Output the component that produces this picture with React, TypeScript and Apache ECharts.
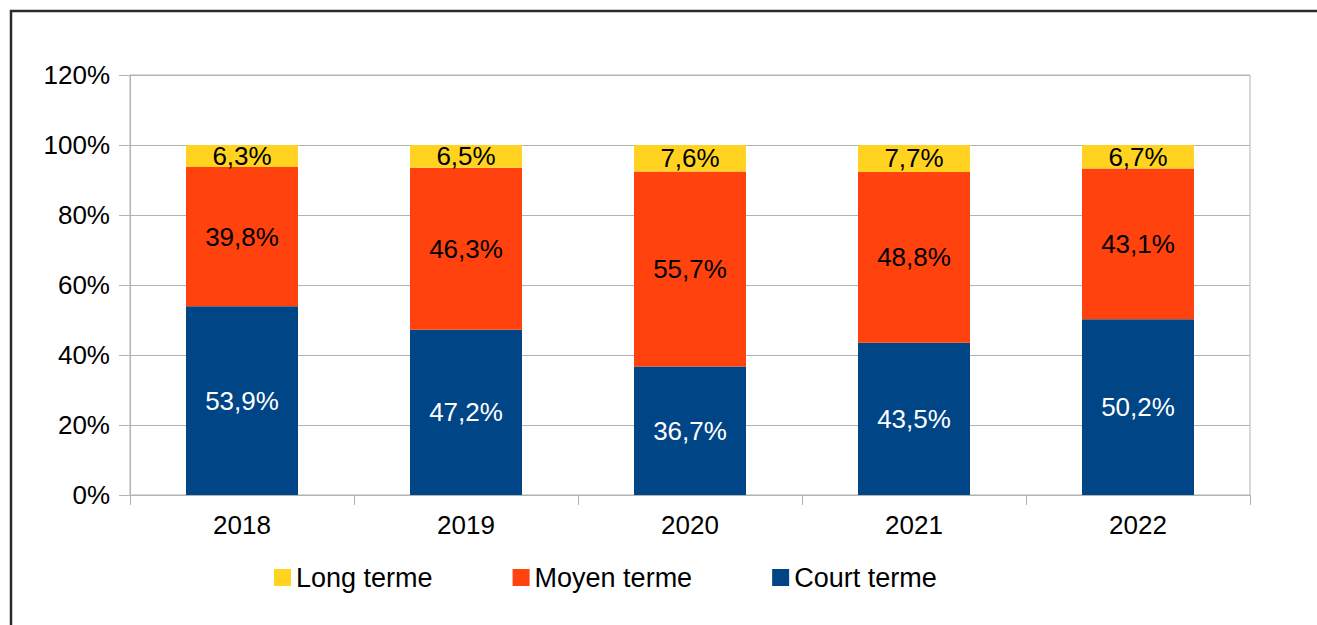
import React, { useEffect, useRef } from "react";
import * as echarts from "echarts";

const years = ["2018", "2019", "2020", "2021", "2022"];
const courtTerme = [53.9, 47.2, 36.7, 43.5, 50.2];
const moyenTerme = [39.8, 46.3, 55.7, 48.8, 43.1];
const longTerme = [6.3, 6.5, 7.6, 7.7, 6.7];
const yTicks = [0, 20, 40, 60, 80, 100, 120];

const FONT = "'Liberation Sans', Arial, sans-serif";
const FS = 26;
const fmt = (v: number) => v.toFixed(1).replace(".", ",") + "%";

export default function App() {
  const ref = useRef<HTMLDivElement>(null);
  useEffect(() => {
    if (!ref.current) return;
    const chart = echarts.init(ref.current, null, { renderer: "svg" });
    const labelCommon = (color: string) => ({
      show: true,
      position: "inside" as const,
      color,
      fontSize: FS,
      fontFamily: FONT,
      formatter: (p: any) => fmt(p.value),
    });
    chart.setOption({
      animation: false,
      backgroundColor: "#ffffff",
      textStyle: { fontFamily: FONT },
      graphic: [
        {
          type: "rect",
          shape: { x: 11, y: 11, width: 1400, height: 700 },
          style: { fill: "none", stroke: "#2a2a2a", lineWidth: 2.5 },
          silent: true,
        },
      ],
      grid: {
        left: 130,
        right: 67,
        top: 75,
        bottom: 130,
        show: true,
        borderColor: "#b3b3b3",
        borderWidth: 1,
      },
      legend: {
        left: 269,
        top: 559,
        icon: "rect",
        itemWidth: 17,
        itemHeight: 17,
        itemGap: 80,
        itemTextGap: 7,
        data: ["Long terme", "Moyen terme", "Court terme"],
        textStyle: { fontSize: 27, color: "#000", fontFamily: FONT },
      },
      xAxis: {
        type: "category",
        data: years,
        boundaryGap: true,
        axisLine: { lineStyle: { color: "#b3b3b3", width: 1 } },
        axisTick: { show: true, alignWithLabel: false, interval: 0, length: 10, lineStyle: { color: "#b3b3b3" } },
        axisLabel: { color: "#000", fontSize: FS, fontFamily: FONT, margin: 17 },
      },
      yAxis: {
        type: "value",
        min: yTicks[0],
        max: yTicks[yTicks.length - 1],
        interval: 20,
        axisLine: { show: true, lineStyle: { color: "#b3b3b3", width: 1 } },
        axisTick: { show: true, length: 11, lineStyle: { color: "#b3b3b3" } },
        splitLine: { show: true, lineStyle: { color: "#b3b3b3", width: 1 } },
        axisLabel: {
          color: "#000",
          fontSize: FS,
          fontFamily: FONT,
          margin: 20,
          formatter: (v: number) => v + "%",
        },
      },
      series: [
        {
          name: "Court terme",
          type: "bar",
          stack: "total",
          barWidth: "50%",
          data: courtTerme,
          itemStyle: { color: "#004586" },
          label: labelCommon("#ffffff"),
        },
        {
          name: "Moyen terme",
          type: "bar",
          stack: "total",
          barWidth: "50%",
          data: moyenTerme,
          itemStyle: { color: "#ff420e" },
          label: labelCommon("#000000"),
        },
        {
          name: "Long terme",
          type: "bar",
          stack: "total",
          barWidth: "50%",
          data: longTerme,
          itemStyle: { color: "#ffd320" },
          label: labelCommon("#000000"),
        },
      ],
    });
    return () => chart.dispose();
  }, []);
  return (
    <div
      ref={ref}
      style={{ position: "absolute", left: 0, top: 0, width: 1317, height: 625 }}
    />
  );
}
